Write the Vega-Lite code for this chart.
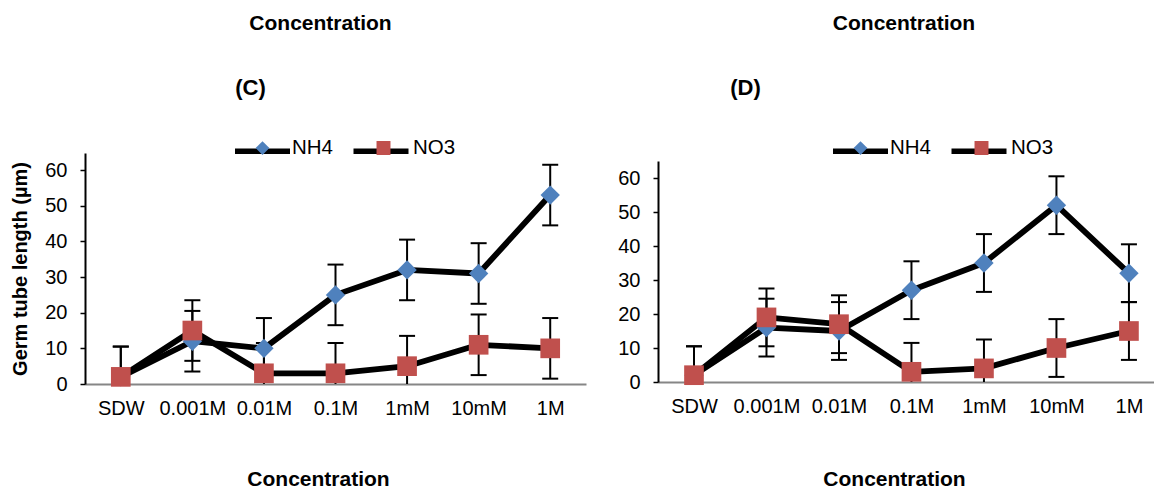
{
  "$schema": "https://vega.github.io/schema/vega-lite/v6.json",
  "padding": {"left": 10, "top": 13, "right": 0, "bottom": 0},
  "background": "white",
  "config": {
    "view": {"stroke": null},
    "font": "Liberation Sans",
    "axis": {"labelFont": "Liberation Sans", "titleFont": "Liberation Sans", "labelColor": "black", "titleColor": "black", "grid": false},
    "axisY": {"values": [0, 10, 20, 30, 40, 50, 60], "labelOverlap": false, "domainColor": "black", "domainWidth": 2, "tickColor": "black", "tickWidth": 1.5, "tickSize": 5, "labelFontSize": 20, "labelPadding": 13, "titleFontSize": 20, "titleFontWeight": "bold", "titlePadding": 14},
    "legend": {"labelFont": "Liberation Sans", "labelColor": "black", "padding": 0},
    "title": {"font": "Liberation Sans", "color": "black"}
  },
  "datasets": {
    "C": [
      {"series": "NH4", "line": "NH4", "conc": "SDW", "mean": 2, "lo": -6.5, "hi": 10.5},
      {"series": "NH4", "line": "NH4", "conc": "0.001M", "mean": 12, "lo": 3.5, "hi": 20.5},
      {"series": "NH4", "line": "NH4", "conc": "0.01M", "mean": 10, "lo": 1.5, "hi": 18.5},
      {"series": "NH4", "line": "NH4", "conc": "0.1M", "mean": 25, "lo": 16.5, "hi": 33.5},
      {"series": "NH4", "line": "NH4", "conc": "1mM", "mean": 32, "lo": 23.5, "hi": 40.5},
      {"series": "NH4", "line": "NH4", "conc": "10mM", "mean": 31, "lo": 22.5, "hi": 39.5},
      {"series": "NH4", "line": "NH4", "conc": "1M", "mean": 53, "lo": 44.5, "hi": 61.5},
      {"series": "NO3", "line": "NO3", "conc": "SDW", "mean": 2, "lo": -6.5, "hi": 10.5},
      {"series": "NO3", "line": "NO3", "conc": "0.001M", "mean": 15, "lo": 6.5, "hi": 23.5},
      {"series": "NO3", "line": "NO3", "conc": "0.01M", "mean": 3, "lo": -5.5, "hi": 11.5},
      {"series": "NO3", "line": "NO3", "conc": "0.1M", "mean": 3, "lo": -5.5, "hi": 11.5},
      {"series": "NO3", "line": "NO3", "conc": "1mM", "mean": 5, "lo": -3.5, "hi": 13.5},
      {"series": "NO3", "line": "NO3", "conc": "10mM", "mean": 11, "lo": 2.5, "hi": 19.5},
      {"series": "NO3", "line": "NO3", "conc": "1M", "mean": 10, "lo": 1.5, "hi": 18.5}
    ],
    "D": [
      {"series": "NH4", "line": "NH4", "conc": "SDW", "mean": 2, "lo": -6.5, "hi": 10.5},
      {"series": "NH4", "line": "NH4", "conc": "0.001M", "mean": 16, "lo": 7.5, "hi": 24.5},
      {"series": "NH4", "line": "NH4", "conc": "0.01M", "mean": 15, "lo": 6.5, "hi": 23.5},
      {"series": "NH4", "line": "NH4", "conc": "0.1M", "mean": 27, "lo": 18.5, "hi": 35.5},
      {"series": "NH4", "line": "NH4", "conc": "1mM", "mean": 35, "lo": 26.5, "hi": 43.5},
      {"series": "NH4", "line": "NH4", "conc": "10mM", "mean": 52, "lo": 43.5, "hi": 60.5},
      {"series": "NH4", "line": "NH4", "conc": "1M", "mean": 32, "lo": 23.5, "hi": 40.5},
      {"series": "NO3", "line": "NO3", "conc": "SDW", "mean": 2, "lo": -6.5, "hi": 10.5},
      {"series": "NO3", "line": "NO3", "conc": "0.001M", "mean": 19, "lo": 10.5, "hi": 27.5},
      {"series": "NO3", "line": "NO3", "conc": "0.01M", "mean": 17, "lo": 8.5, "hi": 25.5},
      {"series": "NO3", "line": "NO3", "conc": "0.1M", "mean": 3, "lo": -5.5, "hi": 11.5},
      {"series": "NO3", "line": "NO3", "conc": "1mM", "mean": 4, "lo": -4.5, "hi": 12.5},
      {"series": "NO3", "line": "NO3", "conc": "10mM", "mean": 10, "lo": 1.5, "hi": 18.5},
      {"series": "NO3", "line": "NO3", "conc": "1M", "mean": 15, "lo": 6.5, "hi": 23.5}
    ]
  },
  "spacing": 31,
  "resolve": {
    "scale": {"fill": "independent", "shape": "independent", "stroke": "independent"},
    "legend": {"fill": "independent", "shape": "independent", "stroke": "independent"}
  },
  "hconcat": [
    {
      "width": 501,
      "height": 231,
      "data": {"name": "C"},
      "title": {"text": "Concentration", "anchor": "middle", "frame": "group", "dx": -15, "fontSize": 21, "fontWeight": "bold", "offset": 42, "baseline": "top"},
      "resolve": {"axis": {"x": "independent"}},
      "layer": [
        {
          "mark": {"type": "rule", "color": "black", "strokeWidth": 2, "clip": true},
          "encoding": {
            "x": {"field": "conc", "type": "nominal", "sort": ["SDW", "0.001M", "0.01M", "0.1M", "1mM", "10mM", "1M"], "scale": {"type": "point", "padding": 0.5},
              "axis": {"title": "Concentration", "titleFontSize": 21, "titleFontWeight": "bold", "titleX": 233, "titleY": 101.5, "titleBaseline": "alphabetic", "labelAngle": 0, "labelFontSize": 20, "labelPadding": 14, "ticks": false, "tickSize": 0, "domainColor": "#868686", "domainWidth": 2}},
            "y": {"field": "lo", "type": "quantitative", "title": "Germ tube length (µm)", "scale": {"domain": [0, 64.8], "nice": false},
              "axis": {"values": [0, 10, 20, 30, 40, 50, 60]}},
            "y2": {"field": "hi"}
          }
        },
        {
          "mark": {"type": "tick", "orient": "horizontal", "color": "black", "size": 16, "thickness": 2, "opacity": 1, "clip": true},
          "encoding": {
            "x": {"field": "conc", "type": "nominal", "sort": ["SDW", "0.001M", "0.01M", "0.1M", "1mM", "10mM", "1M"], "axis": null},
            "y": {"field": "hi", "type": "quantitative", "title": "Germ tube length (µm)", "axis": {"values": [0, 10, 20, 30, 40, 50, 60]}}
          }
        },
        {
          "mark": {"type": "tick", "orient": "horizontal", "color": "black", "size": 16, "thickness": 2, "opacity": 1, "clip": true},
          "encoding": {
            "x": {"field": "conc", "type": "nominal", "sort": ["SDW", "0.001M", "0.01M", "0.1M", "1mM", "10mM", "1M"], "axis": null},
            "y": {"field": "lo", "type": "quantitative", "title": "Germ tube length (µm)", "axis": {"values": [0, 10, 20, 30, 40, 50, 60]}}
          }
        },
        {
          "mark": {"type": "line", "strokeWidth": 5.8, "strokeJoin": "round", "strokeCap": "round"},
          "encoding": {
            "x": {"field": "conc", "type": "nominal", "sort": ["SDW", "0.001M", "0.01M", "0.1M", "1mM", "10mM", "1M"],
              "axis": {"orient": "top", "domain": false, "ticks": false, "labels": false, "title": "(C)", "titleFontSize": 22, "titleFontWeight": "bold", "titleX": 165, "titleY": -54, "titleBaseline": "bottom", "titleAngle": 0}},
            "y": {"field": "mean", "type": "quantitative", "title": "Germ tube length (µm)", "axis": {"values": [0, 10, 20, 30, 40, 50, 60]}},
            "stroke": {"field": "line", "type": "nominal", "scale": {"range": ["black", "black"]},
              "legend": {"orient": "none", "legendX": 147, "legendY": -32.5, "direction": "horizontal", "title": null, "symbolType": "M-1,0L1,0", "symbolSize": 3025, "symbolStrokeWidth": 5.5, "labelFontSize": 20.5, "labelOffset": 2, "columnPadding": 5.5, "labelOpacity": 0, "zindex": 1}}
          }
        },
        {
          "mark": {"type": "point", "filled": true, "opacity": 1, "size": 6000, "strokeWidth": 0},
          "encoding": {
            "x": {"field": "conc", "type": "nominal", "sort": ["SDW", "0.001M", "0.01M", "0.1M", "1mM", "10mM", "1M"], "axis": null},
            "y": {"field": "mean", "type": "quantitative", "title": "Germ tube length (µm)", "axis": {"values": [0, 10, 20, 30, 40, 50, 60]}},
            "fill": {"field": "series", "type": "nominal", "scale": {"range": ["#4F81BD", "#C0504D"]},
              "legend": {"orient": "none", "legendX": 150, "legendY": -32.5, "direction": "horizontal", "title": null, "symbolSize": 3025, "symbolStrokeWidth": 0, "symbolOpacity": 1, "labelFontSize": 20.5, "labelOffset": 2, "columnPadding": 22, "zindex": 2}},
            "shape": {"field": "series", "type": "nominal", "scale": {"range": ["M0,-0.25L0.25,0L0,0.25L-0.25,0Z", "M-0.254,-0.254L0.254,-0.254L0.254,0.254L-0.254,0.254Z"]},
              "legend": {"orient": "none", "legendX": 150, "legendY": -32.5, "direction": "horizontal", "title": null, "symbolSize": 3025, "symbolStrokeWidth": 0, "symbolOpacity": 1, "labelFontSize": 20.5, "labelOffset": 2, "columnPadding": 22, "zindex": 2}}
          }
        }
      ]
    },
    {
      "width": 497,
      "height": 229,
      "data": {"name": "D"},
      "title": {"text": "Concentration", "anchor": "middle", "frame": "group", "dx": -2.5, "fontSize": 21, "fontWeight": "bold", "offset": 42, "baseline": "top"},
      "resolve": {"axis": {"x": "independent"}},
      "layer": [
        {
          "mark": {"type": "rule", "color": "black", "strokeWidth": 2, "clip": true},
          "encoding": {
            "x": {"field": "conc", "type": "nominal", "sort": ["SDW", "0.001M", "0.01M", "0.1M", "1mM", "10mM", "1M"], "scale": {"type": "point", "padding": 0.428, "align": 0.58},
              "axis": {"title": "Concentration", "titleFontSize": 21, "titleFontWeight": "bold", "titleX": 236, "titleY": 103.5, "titleBaseline": "alphabetic", "labelAngle": 0, "labelFontSize": 20, "labelPadding": 14, "ticks": false, "tickSize": 0, "domainColor": "#868686", "domainWidth": 2}},
            "y": {"field": "lo", "type": "quantitative", "title": null, "scale": {"domain": [0, 65], "nice": false, "range": [229, 8]},
              "axis": {"values": [0, 10, 20, 30, 40, 50, 60]}},
            "y2": {"field": "hi"}
          }
        },
        {
          "mark": {"type": "tick", "orient": "horizontal", "color": "black", "size": 16, "thickness": 2, "opacity": 1, "clip": true},
          "encoding": {
            "x": {"field": "conc", "type": "nominal", "sort": ["SDW", "0.001M", "0.01M", "0.1M", "1mM", "10mM", "1M"], "axis": null},
            "y": {"field": "hi", "type": "quantitative", "title": null, "axis": {"values": [0, 10, 20, 30, 40, 50, 60]}}
          }
        },
        {
          "mark": {"type": "tick", "orient": "horizontal", "color": "black", "size": 16, "thickness": 2, "opacity": 1, "clip": true},
          "encoding": {
            "x": {"field": "conc", "type": "nominal", "sort": ["SDW", "0.001M", "0.01M", "0.1M", "1mM", "10mM", "1M"], "axis": null},
            "y": {"field": "lo", "type": "quantitative", "title": null, "axis": {"values": [0, 10, 20, 30, 40, 50, 60]}}
          }
        },
        {
          "mark": {"type": "line", "strokeWidth": 5.8, "strokeJoin": "round", "strokeCap": "round"},
          "encoding": {
            "x": {"field": "conc", "type": "nominal", "sort": ["SDW", "0.001M", "0.01M", "0.1M", "1mM", "10mM", "1M"],
              "axis": {"orient": "top", "domain": false, "ticks": false, "labels": false, "title": "(D)", "titleFontSize": 22, "titleFontWeight": "bold", "titleX": 87, "titleY": -54, "titleBaseline": "bottom", "titleAngle": 0}},
            "y": {"field": "mean", "type": "quantitative", "title": null, "axis": {"values": [0, 10, 20, 30, 40, 50, 60]}},
            "stroke": {"field": "line", "type": "nominal", "scale": {"range": ["black", "black"]},
              "legend": {"orient": "none", "legendX": 172, "legendY": -32.5, "direction": "horizontal", "title": null, "symbolType": "M-1,0L1,0", "symbolSize": 3025, "symbolStrokeWidth": 5.5, "labelFontSize": 20.5, "labelOffset": 2, "columnPadding": 5.5, "labelOpacity": 0, "zindex": 1}}
          }
        },
        {
          "mark": {"type": "point", "filled": true, "opacity": 1, "size": 6000, "strokeWidth": 0},
          "encoding": {
            "x": {"field": "conc", "type": "nominal", "sort": ["SDW", "0.001M", "0.01M", "0.1M", "1mM", "10mM", "1M"], "axis": null},
            "y": {"field": "mean", "type": "quantitative", "title": null, "axis": {"values": [0, 10, 20, 30, 40, 50, 60]}},
            "fill": {"field": "series", "type": "nominal", "scale": {"range": ["#4F81BD", "#C0504D"]},
              "legend": {"orient": "none", "legendX": 175, "legendY": -32.5, "direction": "horizontal", "title": null, "symbolSize": 3025, "symbolStrokeWidth": 0, "symbolOpacity": 1, "labelFontSize": 20.5, "labelOffset": 2, "columnPadding": 22, "zindex": 2}},
            "shape": {"field": "series", "type": "nominal", "scale": {"range": ["M0,-0.25L0.25,0L0,0.25L-0.25,0Z", "M-0.254,-0.254L0.254,-0.254L0.254,0.254L-0.254,0.254Z"]},
              "legend": {"orient": "none", "legendX": 175, "legendY": -32.5, "direction": "horizontal", "title": null, "symbolSize": 3025, "symbolStrokeWidth": 0, "symbolOpacity": 1, "labelFontSize": 20.5, "labelOffset": 2, "columnPadding": 22, "zindex": 2}}
          }
        }
      ]
    }
  ]
}
